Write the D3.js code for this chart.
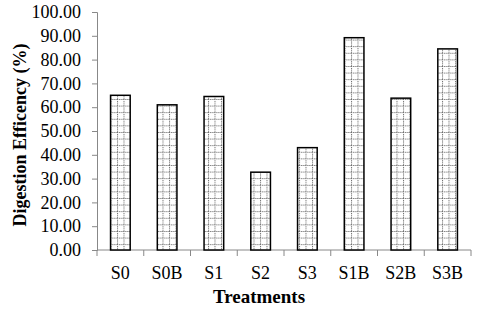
<!DOCTYPE html>
<html>
<head>
<meta charset="utf-8">
<script src="https://cdn.jsdelivr.net/npm/d3@7"></script>
<style>
body { margin: 0; background: #fff; }
text { font-family: 'Liberation Serif', 'Times New Roman', serif; }
</style>
</head>
<body>
<div id="chart"></div>
<script>
// data
const treatments = ["S0", "S0B", "S1", "S2", "S3", "S1B", "S2B", "S3B"];
const efficiency = [65.0, 61.0, 64.5, 32.7, 43.0, 89.2, 63.8, 84.5];
const yTicks = [0, 10, 20, 30, 40, 50, 60, 70, 80, 90, 100];

const width = 480, height = 312;
const margin = {top: 12, right: 9, bottom: 62, left: 97};

const svg = d3.select("#chart").append("svg")
    .attr("width", width)
    .attr("height", height);

// dotted grid fill for the bars
const pat = svg.append("defs").append("pattern")
    .attr("id", "dots")
    .attr("patternUnits", "userSpaceOnUse")
    .attr("width", 6.5).attr("height", 6.6);
pat.append("rect").attr("width", 6.5).attr("height", 6.6).attr("fill", "#fff");
pat.append("line").attr("x1", 0).attr("y1", 0.5).attr("x2", 6.5).attr("y2", 0.5)
    .attr("stroke", "#555").attr("stroke-width", 1).attr("stroke-dasharray", "1,1");
pat.append("line").attr("x1", 0.5).attr("y1", 0).attr("x2", 0.5).attr("y2", 6.6)
    .attr("stroke", "#666").attr("stroke-width", 1).attr("stroke-dasharray", "1,1");

const x = d3.scaleBand()
    .domain(treatments)
    .range([margin.left, width - margin.right])
    .paddingInner(0.58)
    .paddingOuter(0.29);

const y = d3.scaleLinear()
    .domain([0, 100])
    .range([height - margin.bottom, margin.top]);

// y axis
const yAxis = svg.append("g")
    .attr("transform", "translate(" + margin.left + ",0)")
    .call(d3.axisLeft(y).tickValues(yTicks).tickSize(5).tickPadding(11)
        .tickFormat(d3.format(".2f")));
yAxis.attr("font-family", null);
yAxis.select(".domain").attr("stroke", "#888");
yAxis.selectAll(".tick line").attr("stroke", "#888");
yAxis.selectAll("text").attr("font-size", "18px").attr("fill", "#000");

// x axis, ticks at category boundaries
const xAxis = svg.append("g")
    .attr("transform", "translate(0," + y(0) + ")");
xAxis.append("line")
    .attr("x1", margin.left).attr("x2", width - margin.right)
    .attr("stroke", "#888");
xAxis.selectAll(".sep")
    .data(d3.range(treatments.length + 1))
    .join("line")
    .attr("x1", i => margin.left + i * (width - margin.left - margin.right) / treatments.length)
    .attr("x2", i => margin.left + i * (width - margin.left - margin.right) / treatments.length)
    .attr("y1", 0).attr("y2", 6)
    .attr("stroke", "#888");
xAxis.selectAll("text")
    .data(treatments)
    .join("text")
    .attr("x", d => x(d) + x.bandwidth() / 2)
    .attr("y", 29)
    .attr("text-anchor", "middle")
    .attr("font-size", "18px")
    .text(d => d);

// bars
svg.selectAll(".bar")
    .data(efficiency)
    .join("rect")
    .attr("class", "bar")
    .attr("x", (d, i) => x(treatments[i]))
    .attr("y", d => y(d))
    .attr("width", x.bandwidth())
    .attr("height", d => y(0) - y(d))
    .attr("fill", "url(#dots)")
    .attr("stroke", "#000")
    .attr("stroke-width", 1.5);

// titles
svg.append("text")
    .attr("x", 259)
    .attr("y", 303)
    .attr("text-anchor", "middle")
    .attr("font-weight", "bold")
    .attr("font-size", "19px")
    .text("Treatments");

svg.append("text")
    .attr("transform", "translate(26,135) rotate(-90)")
    .attr("text-anchor", "middle")
    .attr("font-weight", "bold")
    .attr("font-size", "18px")
    .text("Digestion Efficency (%)");
</script>
</body>
</html>
